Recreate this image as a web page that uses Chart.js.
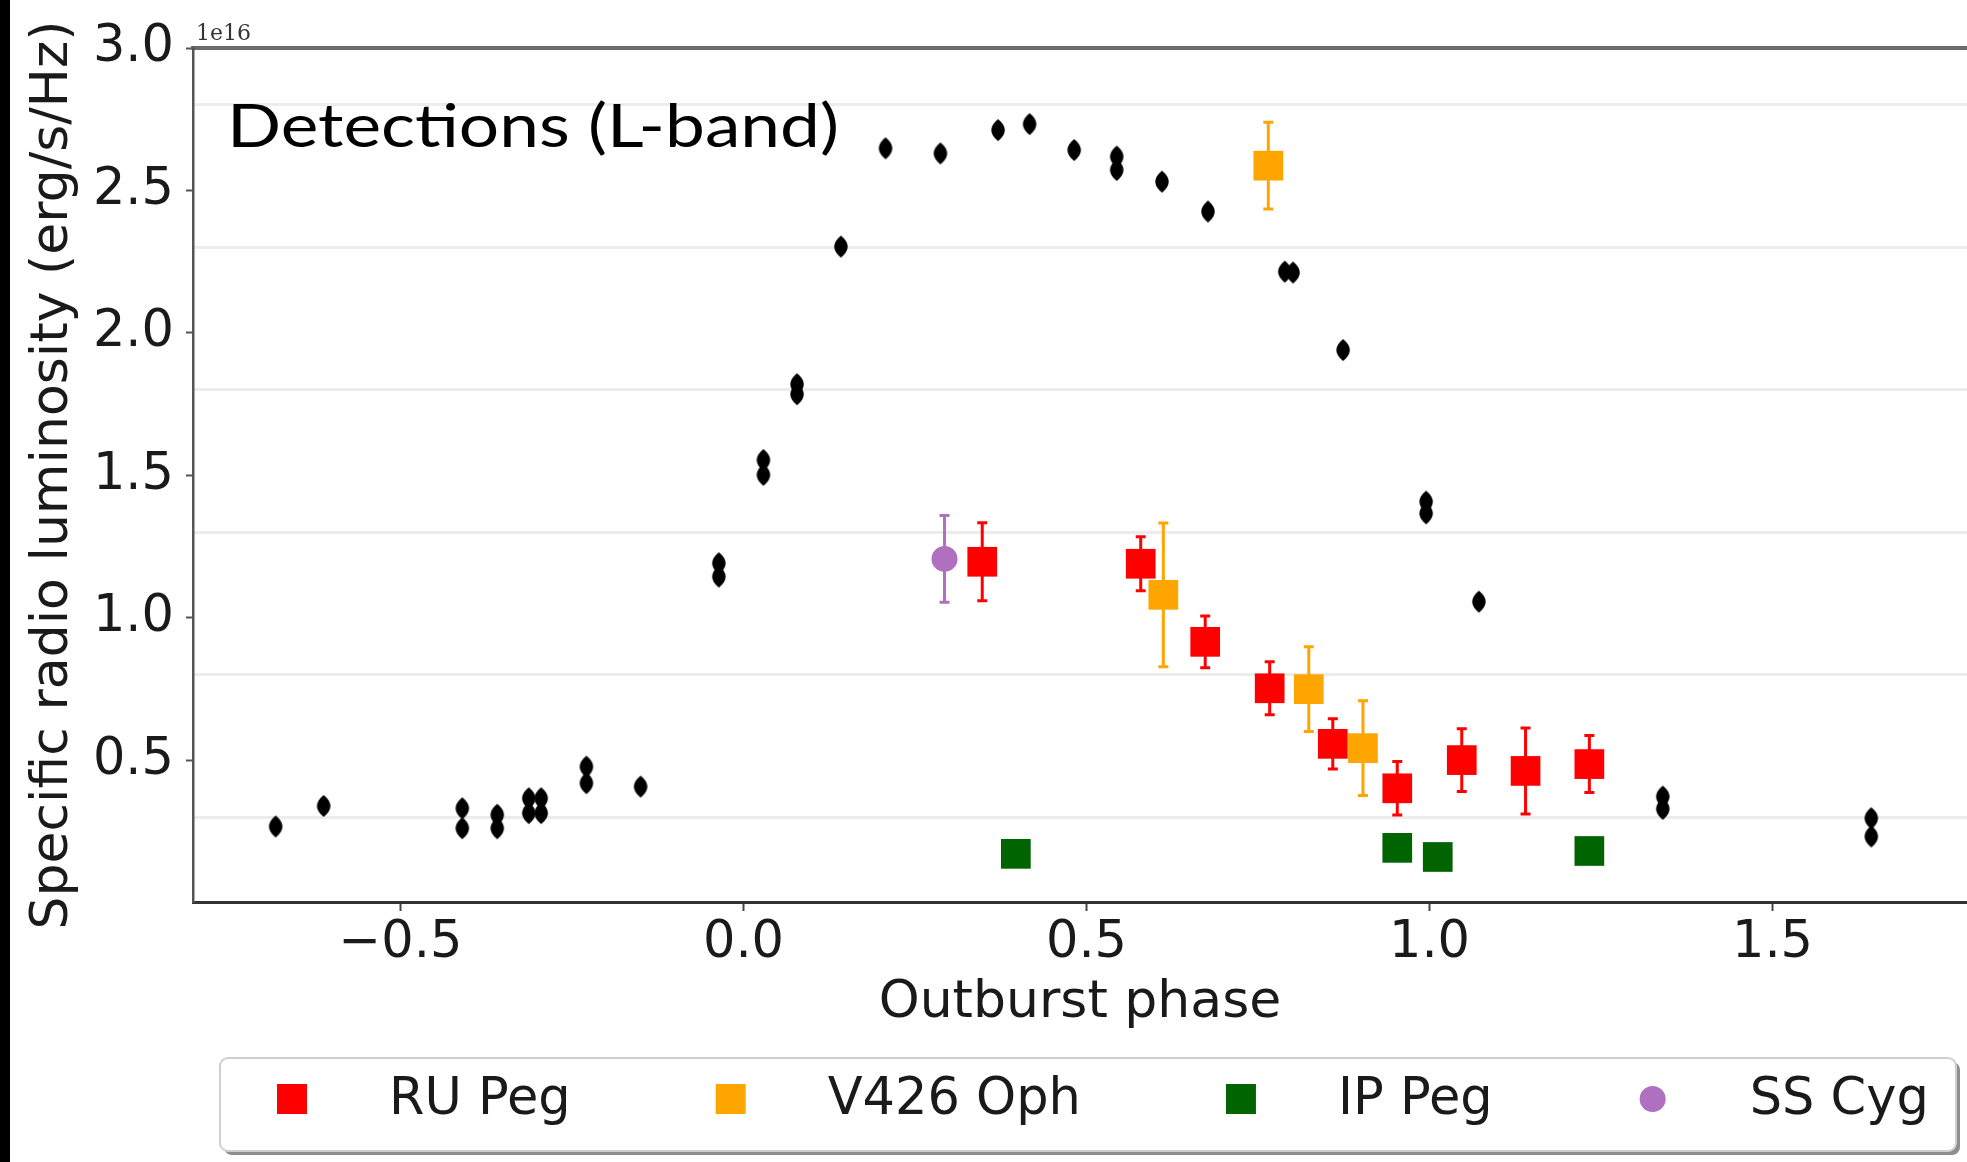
<!DOCTYPE html>
<html>
<head>
<meta charset="utf-8">
<title>Detections (L-band)</title>
<script src="https://cdn.jsdelivr.net/npm/chart.js@4.4.0/dist/chart.umd.min.js"></script>
<style>
  html, body { margin: 0; padding: 0; background: #fff; overflow: hidden; }
  canvas { display: block; }
</style>
</head>
<body>
<canvas id="outburstChart" width="1967" height="1162"></canvas>
<script>
// luminosity values are in units of 1e16 erg/s/Hz, phase is outburst phase
const BLACK_PHASE = [-0.682, -0.612, -0.410, -0.410, -0.359, -0.359, -0.313, -0.313, -0.295, -0.295,
  -0.229, -0.229, -0.150, -0.036, -0.036, 0.029, 0.029, 0.078, 0.078, 0.142, 0.207, 0.287, 0.371,
  0.417, 0.482, 0.544, 0.544, 0.610, 0.677, 0.789, 0.801, 0.874, 0.995, 0.995, 1.072, 1.340, 1.340,
  1.644, 1.644];
const BLACK_LUM = [0.268, 0.340, 0.332, 0.262, 0.309, 0.262, 0.367, 0.315, 0.367, 0.315,
  0.478, 0.420, 0.408, 1.192, 1.145, 1.554, 1.502, 1.820, 1.785, 2.303, 2.648, 2.630, 2.712,
  2.733, 2.642, 2.619, 2.572, 2.531, 2.426, 2.215, 2.212, 1.940, 1.408, 1.367, 1.057, 0.373, 0.330,
  0.297, 0.233];

const RU_PEG_PHASE = [0.348, 0.579, 0.673, 0.767, 0.859, 0.953, 1.047, 1.140, 1.233];
const RU_PEG_LUM = [1.197, 1.190, 0.916, 0.753, 0.558, 0.402, 0.501, 0.463, 0.487];
const RU_PEG_ERR = [0.137, 0.095, 0.091, 0.093, 0.088, 0.094, 0.110, 0.151, 0.100];

const V426_OPH_PHASE = [0.612, 0.765, 0.824, 0.903];
const V426_OPH_LUM = [1.081, 2.587, 0.750, 0.543];
const V426_OPH_ERR = [0.252, 0.152, 0.149, 0.166];

const IP_PEG_PHASE = [0.397, 0.953, 1.012, 1.233];
const IP_PEG_LUM = [0.172, 0.193, 0.161, 0.182];

const SS_CYG_PHASE = [0.293];
const SS_CYG_LUM = [1.207];
const SS_CYG_ERR = [0.152];

const X_TICKS = [-0.5, 0.0, 0.5, 1.0, 1.5];
const Y_TICKS = [0.5, 1.0, 1.5, 2.0, 2.5, 3.0];
const GRID_Y = [0.3, 0.8, 1.3, 1.8, 2.3, 2.8];
const X_RANGE = [-0.8025, 1.7835];
const Y_RANGE = [0.003, 3.0];

const FONT = "'DejaVu Sans', sans-serif";
const TEXT = '#1a1a1a';

function pts(xs, ys) {
  return xs.map((x, i) => ({ x: x, y: ys[i] }));
}

// thin black diamond used for the comparison light curve
function thinDiamond() {
  const c = document.createElement('canvas');
  c.width = 18; c.height = 24;
  const g = c.getContext('2d');
  g.fillStyle = '#000';
  g.beginPath();
  g.moveTo(9, 1);
  g.bezierCurveTo(18, 8, 18, 16, 9, 23);
  g.bezierCurveTo(0, 16, 0, 8, 9, 1);
  g.fill();
  return c;
}

function fmt(v) {
  return v < 0 ? '\u2212' + Math.abs(v).toFixed(1) : v.toFixed(1);
}

const background = {
  id: 'background',
  beforeDraw(chart) {
    const ctx = chart.ctx;
    ctx.save();
    ctx.fillStyle = '#fff';
    ctx.fillRect(0, 0, chart.width, chart.height);
    ctx.fillStyle = '#000';
    ctx.fillRect(0, 0, 10, chart.height);
    ctx.restore();
  }
};

const errorBars = {
  id: 'errorBars',
  beforeDatasetsDraw(chart) {
    const ctx = chart.ctx;
    const xs = chart.scales.x, ys = chart.scales.y;
    chart.data.datasets.forEach(ds => {
      if (!ds.yErr) return;
      ctx.save();
      ctx.strokeStyle = ds.backgroundColor;
      ctx.lineWidth = 3;
      ds.data.forEach((p, j) => {
        const px = xs.getPixelForValue(p.x);
        const top = ys.getPixelForValue(p.y + ds.yErr[j]);
        const bot = ys.getPixelForValue(p.y - ds.yErr[j]);
        ctx.beginPath();
        ctx.moveTo(px, top); ctx.lineTo(px, bot);
        ctx.moveTo(px - 5, top); ctx.lineTo(px + 5, top);
        ctx.moveTo(px - 5, bot); ctx.lineTo(px + 5, bot);
        ctx.stroke();
      });
      ctx.restore();
    });
  }
};

const overlay = {
  id: 'overlay',
  afterDraw(chart) {
    const ctx = chart.ctx;
    const area = chart.chartArea;
    ctx.save();

    // offset text of the y axis
    ctx.fillStyle = '#333';
    ctx.font = "22px 'DejaVu Serif', serif";
    ctx.textBaseline = 'alphabetic';
    ctx.fillText('1e16', area.left + 3, 40);

    // panel label, stretched to the wide look of the original face
    const label = 'Detections (L-band)';
    ctx.fillStyle = '#000';
    ctx.font = "400 60px Lato, 'Open Sans', sans-serif";
    const w = ctx.measureText(label).width;
    ctx.translate(area.left + 34, 147);
    ctx.scale(612 / w, 1);
    ctx.fillText(label, 0, 0);
    ctx.setTransform(1, 0, 0, 1, 0, 0);

    // legend box with shadow
    const bx = 220, by = 1058, bw = 1736, bh = 93;
    ctx.fillStyle = '#8e8e8e';
    ctx.beginPath();
    ctx.roundRect(bx + 4, by + 4, bw, bh, 8);
    ctx.fill();
    ctx.fillStyle = '#fff';
    ctx.strokeStyle = '#cfcfcf';
    ctx.lineWidth = 2;
    ctx.beginPath();
    ctx.roundRect(bx, by, bw, bh, 8);
    ctx.fill();
    ctx.stroke();

    ctx.font = '51px ' + FONT;
    ctx.textBaseline = 'middle';
    let cursor = 292;
    const cy = 1099;
    chart.data.datasets.filter(ds => ds.showInLegend).forEach(ds => {
      ctx.fillStyle = ds.backgroundColor;
      if (ds.pointStyle === 'circle') {
        ctx.beginPath();
        ctx.arc(cursor, cy, 13, 0, Math.PI * 2);
        ctx.fill();
      } else {
        ctx.fillRect(cursor - 15, cy - 15, 30, 30);
      }
      ctx.fillStyle = TEXT;
      const tx = cursor + 97;
      ctx.fillText(ds.label, tx, cy + 2);
      cursor = tx + ctx.measureText(ds.label).width + 160;
    });
    ctx.restore();
  }
};

new Chart(document.getElementById('outburstChart').getContext('2d'), {
  type: 'scatter',
  data: {
    datasets: [
      {
        label: 'RU Peg', showInLegend: true, order: 2,
        data: pts(RU_PEG_PHASE, RU_PEG_LUM), yErr: RU_PEG_ERR,
        backgroundColor: '#ff0000', pointStyle: 'rect', pointRadius: 21, pointBorderWidth: 0
      },
      {
        label: 'V426 Oph', showInLegend: true, order: 1,
        data: pts(V426_OPH_PHASE, V426_OPH_LUM), yErr: V426_OPH_ERR,
        backgroundColor: '#ffa500', pointStyle: 'rect', pointRadius: 21, pointBorderWidth: 0
      },
      {
        label: 'IP Peg', showInLegend: true, order: 3,
        data: pts(IP_PEG_PHASE, IP_PEG_LUM),
        backgroundColor: '#006400', pointStyle: 'rect', pointRadius: 21, pointBorderWidth: 0
      },
      {
        label: 'SS Cyg', showInLegend: true, order: 0,
        data: pts(SS_CYG_PHASE, SS_CYG_LUM), yErr: SS_CYG_ERR,
        backgroundColor: '#b070c0', pointStyle: 'circle', pointRadius: 13, pointBorderWidth: 0
      },
      {
        label: 'comparison', showInLegend: false, order: 5,
        data: pts(BLACK_PHASE, BLACK_LUM),
        backgroundColor: '#000', pointStyle: thinDiamond(), pointRadius: 9
      }
    ]
  },
  options: {
    responsive: false,
    animation: false,
    events: [],
    layout: { autoPadding: false, padding: { top: 48, left: 0, right: 0, bottom: 0 } },
    plugins: { legend: { display: false }, tooltip: { enabled: false } },
    scales: {
      x: {
        type: 'linear', position: 'bottom',
        min: X_RANGE[0], max: X_RANGE[1],
        afterBuildTicks: s => { s.ticks = X_TICKS.map(v => ({ value: v })); },
        afterFit: s => { s.height = 260; },
        ticks: { font: { family: FONT, size: 51 }, color: TEXT, padding: 2, maxRotation: 0, autoSkip: false, callback: v => fmt(v) },
        grid: { drawOnChartArea: false, drawTicks: true, tickLength: 9, tickColor: '#444', tickWidth: 2 },
        border: { color: '#333', width: 3 },
        title: { display: true, text: 'Outburst phase', color: TEXT, font: { family: FONT, size: 52 }, padding: { top: 0, bottom: 127 } }
      },
      xTop: {
        type: 'linear', position: 'top',
        min: X_RANGE[0], max: X_RANGE[1],
        afterFit: s => { s.height = 0; },
        ticks: { display: false },
        grid: { drawOnChartArea: false, drawTicks: false },
        border: { color: '#6a6a6a', width: 4 }
      },
      y: {
        type: 'linear', position: 'left',
        min: Y_RANGE[0], max: Y_RANGE[1],
        afterBuildTicks: s => { s.ticks = Y_TICKS.map(v => ({ value: v })); },
        afterFit: s => { s.width = 193; },
        ticks: { font: { family: FONT, size: 51 }, color: TEXT, padding: 12, callback: v => v.toFixed(1) },
        grid: { drawOnChartArea: false, drawTicks: true, tickLength: 7, tickColor: '#555', tickWidth: 2 },
        border: { color: '#555', width: 2.5 },
        title: { display: true, text: 'Specific radio luminosity (erg/s/Hz)', color: TEXT, font: { family: FONT, size: 52 }, padding: { top: 22, bottom: 0 } }
      },
      yGrid: {
        type: 'linear', position: 'left',
        min: Y_RANGE[0], max: Y_RANGE[1],
        afterBuildTicks: s => { s.ticks = GRID_Y.map(v => ({ value: v })); },
        afterFit: s => { s.width = 0; },
        ticks: { display: false },
        grid: { color: '#ececec', lineWidth: 3, drawTicks: false },
        border: { display: false }
      }
    }
  },
  plugins: [background, errorBars, overlay]
});
</script>
</body>
</html>
